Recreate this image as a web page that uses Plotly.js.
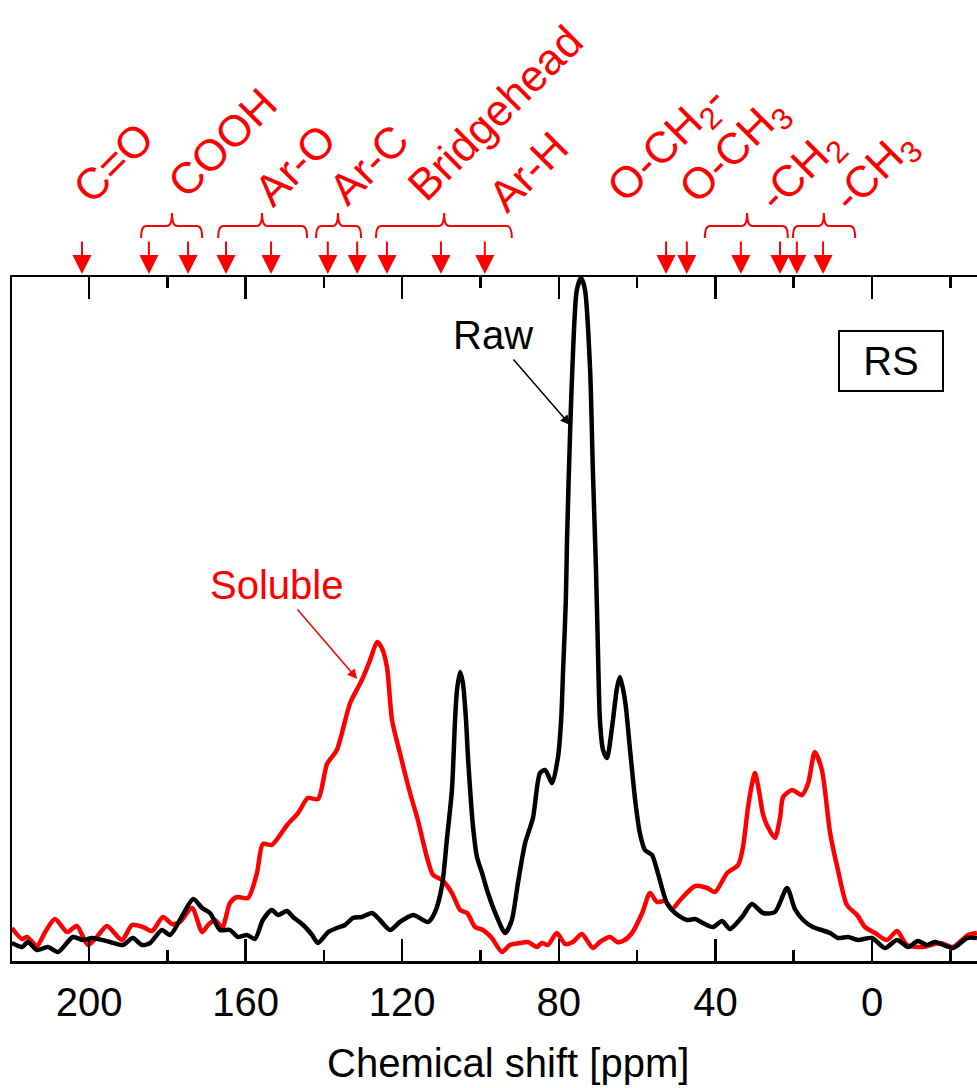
<!DOCTYPE html>
<html><head><meta charset="utf-8">
<script src="https://cdn.plot.ly/plotly-3.0.1.min.js"></script>
<style>html,body{margin:0;padding:0;background:#fff;overflow:hidden}</style>
</head><body><div id="chart" style="width:977px;height:1088px"></div>
<script>
// Soluble fraction (red)
const solublePpm = [219.7,217.1,215.8,213.3,211.2,208.7,205.6,203.1,200.3,198.0,
195.4,191.6,189.0,186.2,183.9,181.1,178.8,176.8,173.7,171.1,
169.6,167.8,166.0,164.0,162.2,159.4,157.1,155.6,153.3,149.4,
146.6,144.1,141.5,139.2,136.7,133.3,130.3,128.2,126.4,125.2,
123.9,122.6,120.6,118.0,116.0,113.7,112.1,109.8,107.3,105.2,
103.4,101.4,99.4,97.1,94.5,92.5,89.9,87.9,85.6,84.3,
82.8,80.5,78.4,76.4,74.1,71.3,69.5,66.9,65.1,63.6,
61.3,58.7,56.7,54.9,52.9,51.1,49.0,45.2,42.1,40.1,
37.0,34.2,33.0,31.7,30.7,29.9,28.9,27.8,26.6,24.8,
23.5,22.7,20.4,17.9,16.3,14.6,12.8,10.7,8.7,6.4,
3.8,1.8,-0.8,-3.8,-6.4,-8.9,-13.0,-17.4,-20.7,-23.0,
-24.5,-26.8];
const solubleInt = [33,22,24,15,29,42,29,35,16,24,
35,21,36,34,30,44,37,39,53,29,
36,41,33,58,64,63,88,117,116,136,
148,163,162,197,211,258,281,301,319,313,
294,241,208,168,141,104,86,81,68,51,
48,34,31,23,9,16,18,19,14,18,
16,28,17,19,27,13,19,24,19,20,
28,48,68,59,60,52,61,75,73,69,
88,96,113,153,176,188,171,146,134,123,
143,164,171,166,178,209,191,128,91,56,
46,34,28,21,30,16,14,18,14,21,
26,28];

// Raw sample (black)
const rawPpm = [219.7,217.1,215.6,213.3,210.5,207.9,204.1,201.5,199.2,194.6,
191.3,188.8,186.5,184.4,181.4,179.3,176.2,173.4,171.1,169.1,
166.5,164.0,161.9,159.6,157.6,155.6,153.3,151.7,149.4,147.9,
145.3,143.0,141.5,138.9,136.7,134.6,132.6,130.3,127.7,125.7,
123.1,120.6,117.2,113.4,111.6,109.8,108.6,107.3,106.5,106.0,
105.2,104.5,103.7,103.2,101.9,100.9,99.6,98.1,95.8,93.7,
92.0,90.4,88.6,86.6,84.8,83.5,81.7,80.2,79.4,78.9,
78.2,77.9,77.1,76.4,75.4,74.3,73.3,72.0,71.3,70.5,
70.0,69.5,68.7,67.7,66.4,65.1,64.4,63.1,61.8,60.5,
59.3,58.0,56.2,54.7,52.4,50.3,47.3,45.2,43.2,40.6,
38.3,36.3,33.2,30.7,27.8,24.8,21.7,19.7,17.6,15.1,
10.7,8.7,6.1,3.6,0.0,-3.3,-6.4,-9.2,-11.7,-14.0,
-16.1,-20.7,-24.3,-26.8];
const rawInt = [18,14,19,11,14,9,24,21,23,19,
16,23,16,18,31,26,45,62,53,48,
31,31,24,26,22,41,51,46,50,44,
36,26,18,29,33,36,43,44,48,41,
31,39,46,39,49,76,121,171,241,271,
289,278,241,204,134,104,88,68,44,28,
41,79,118,143,188,191,178,204,241,291,
361,421,531,606,671,683,671,591,491,391,
311,241,211,203,234,274,284,261,211,161,
128,111,106,88,58,48,41,42,38,34,
40,32,44,57,48,49,73,52,41,34,
28,23,24,21,23,13,21,14,20,16,
19,13,23,23];

// Assignment markers (ppm) along the top axis
const markerPpm = [201.8,184.7,174.7,165.0,153.5,139.0,131.5,123.9,110.1,98.9,52.6,47.3,33.5,23.5,19.2,12.5];

// Group labels
const groupLabels = ['C=O','COOH','Ar-O','Ar-C','Bridgehead','Ar-H','O-CH<sub>2</sub>-','O-CH<sub>3</sub>','-CH<sub>2</sub>','-CH<sub>3</sub>'];
const groupLabelPpm = [193.9,166.0,147.4,128.7,96.3,87.9,52.1,35.0,18.1,-1.0];
const groupLabelY = [1.168,1.197,1.165,1.165,1.241,1.154,1.193,1.184,1.154,1.154];

// Braces: left ppm, right ppm, center ppm
const braceLeft = [186.7,167.0,142.0,126.7,42.7,20.2];
const braceRight = [171.1,144.3,130.5,92.0,21.5,4.3];
const braceCenter = [178.8,155.8,136.4,109.3,31.9,12.3];

const FONT = 'Arial, "Liberation Sans", sans-serif';
const RED = '#ff0000';

const traces = [
  {x: solublePpm, y: solubleInt, type:'scatter', mode:'lines', name:'Soluble',
   line:{color:RED, width:4.5, shape:'spline', smoothing:0.7}},
  {x: rawPpm, y: rawInt, type:'scatter', mode:'lines', name:'Raw',
   line:{color:'#000', width:4.5, shape:'spline', smoothing:0.7}}
];

function bracePath(l, r, c) {
  const d = 1.3, y0 = 1.057, y1 = 1.0746, y2 = 1.0936;
  return `M ${l},${y0} Q ${l},${y1} ${l-d},${y1} L ${c+d},${y1} Q ${c},${y1} ${c},${y2} Q ${c},${y1} ${c-d},${y1} L ${r+d},${y1} Q ${r},${y1} ${r},${y0}`;
}
const shapes = braceLeft.map((l, i) => ({
  type:'path', xref:'x', yref:'paper', path: bracePath(l, braceRight[i], braceCenter[i]),
  line:{color:RED, width:2}
}));

const annotations = [];
markerPpm.forEach(p => annotations.push({
  x:p, y:1.0044, xref:'x', yref:'paper', text:'', showarrow:true,
  arrowhead:2, arrowsize:1.9, arrowwidth:2, arrowcolor:RED, ax:0, ay:-34, standoff:0
}));
groupLabels.forEach((t, i) => annotations.push({
  x:groupLabelPpm[i], y:groupLabelY[i], xref:'x', yref:'paper', text:t, textangle:-45,
  showarrow:false, xanchor:'center', yanchor:'middle', font:{family:FONT, size:44, color:RED}
}));
// In-plot labels
annotations.push({x:96.8, y:626, xref:'x', yref:'y', text:'Raw', showarrow:false,
  xanchor:'center', yanchor:'middle', font:{family:FONT, size:40, color:'#000'}});
annotations.push({x:77.1, y:536, xref:'x', yref:'y', text:'', showarrow:true,
  arrowhead:2, arrowsize:1.3, arrowwidth:1.5, arrowcolor:'#000', ax:-58, ay:-67, standoff:0});
annotations.push({x:152.2, y:376, xref:'x', yref:'y', text:'Soluble', showarrow:false,
  xanchor:'center', yanchor:'middle', font:{family:FONT, size:40, color:RED}});
annotations.push({x:131.5, y:282, xref:'x', yref:'y', text:'', showarrow:true,
  arrowhead:2, arrowsize:1.3, arrowwidth:1.5, arrowcolor:RED, ax:-61, ay:-71, standoff:0});
annotations.push({x:-4.9, y:600, xref:'x', yref:'y', text:'RS', showarrow:false,
  xanchor:'center', yanchor:'middle', width:102, height:58, borderpad:0,
  bordercolor:'#000', borderwidth:2, font:{family:FONT, size:40, color:'#000'}});
// x-axis title
annotations.push({x:0.514, y:-0.149, xref:'paper', yref:'paper', text:'Chemical shift [ppm]',
  showarrow:false, xanchor:'center', yanchor:'middle', font:{family:FONT, size:40, color:'#000'}});

const layout = {
  width:977, height:1088,
  margin:{l:12, r:0, t:277, b:127, pad:0},
  paper_bgcolor:'#fff', plot_bgcolor:'#fff', showlegend:false,
  xaxis:{range:[219.67,-26.82], autorange:false, tick0:0, dtick:40,
    ticks:'inside', ticklen:22, tickwidth:2.5, tickcolor:'#000',
    showline:true, linewidth:2.5, linecolor:'#000', mirror:'ticks',
    showgrid:false, zeroline:false, ticklabelstandoff:4,
    tickfont:{family:FONT, size:40, color:'#000'},
    minor:{dtick:20, tick0:0, ticks:'inside', ticklen:11, tickwidth:2.5, tickcolor:'#000', showgrid:false}},
  yaxis:{range:[0,684], autorange:false, showline:true, linewidth:2.5, linecolor:'#000',
    ticks:'', showticklabels:false, showgrid:false, zeroline:false, mirror:false},
  shapes, annotations
};
Plotly.newPlot('chart', traces, layout, {displayModeBar:false, staticPlot:true});
</script></body></html>
